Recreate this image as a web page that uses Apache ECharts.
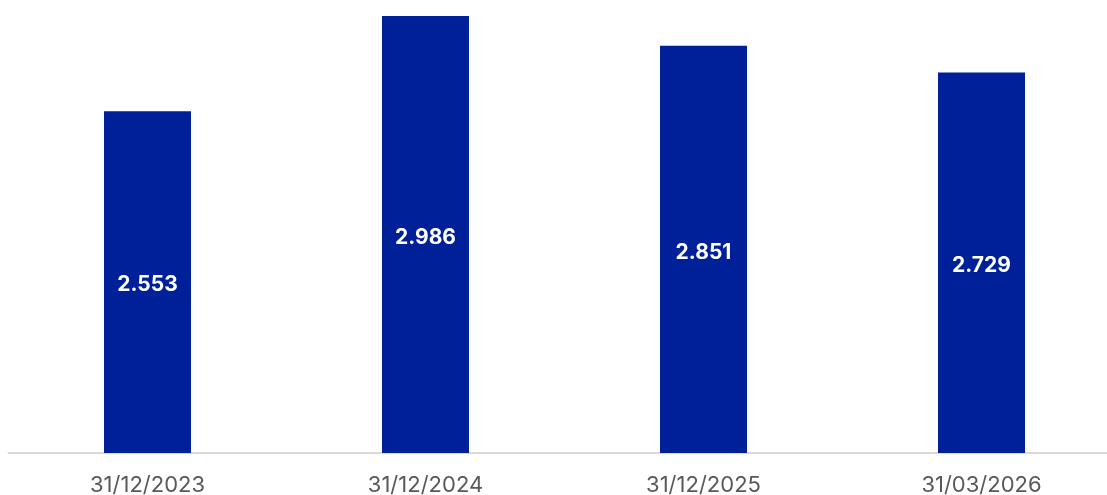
<!DOCTYPE html>
<html>
<head>
<meta charset="utf-8">
<script src="https://cdn.jsdelivr.net/npm/echarts@6/dist/echarts.min.js"></script>
<style>
  html, body { margin: 0; padding: 0; background: #ffffff; }
  #chart { width: 1107px; height: 495px; }
</style>
</head>
<body>
<div id="chart"></div>
<script>
// Reporting dates and the values shown on each bar
const categories = ['31/12/2023', '31/12/2024', '31/12/2025', '31/03/2026'];
const values = [2.553, 2.986, 2.851, 2.729];

const chart = echarts.init(document.getElementById('chart'), null, { renderer: 'canvas' });

chart.setOption({
  animation: false,
  grid: {
    left: 8.5, top: 13, width: 1112, height: 440,
    containLabel: false,
    outerBoundsMode: 'none'
  },
  xAxis: {
    type: 'category',
    data: categories,
    axisLine: { show: true, lineStyle: { color: '#d9d9d9', width: 2 } },
    axisTick: { show: false },
    axisLabel: {
      color: '#595959',
      fontFamily: 'Inter, "Noto Sans", sans-serif',
      fontSize: 22,
      margin: 21
    }
  },
  yAxis: {
    type: 'value',
    min: 1,
    max: 3,
    show: false,
    splitLine: { show: false }
  },
  series: [{
    type: 'bar',
    data: values,
    barWidth: 87,
    itemStyle: { color: '#00209a' },
    label: {
      show: true,
      position: 'inside',
      offset: [0, 3],
      color: '#ffffff',
      fontFamily: 'Inter, "Noto Sans", sans-serif',
      fontWeight: 'bold',
      fontSize: 21,
      formatter: p => p.value.toFixed(3)
    }
  }]
});
</script>
</body>
</html>
